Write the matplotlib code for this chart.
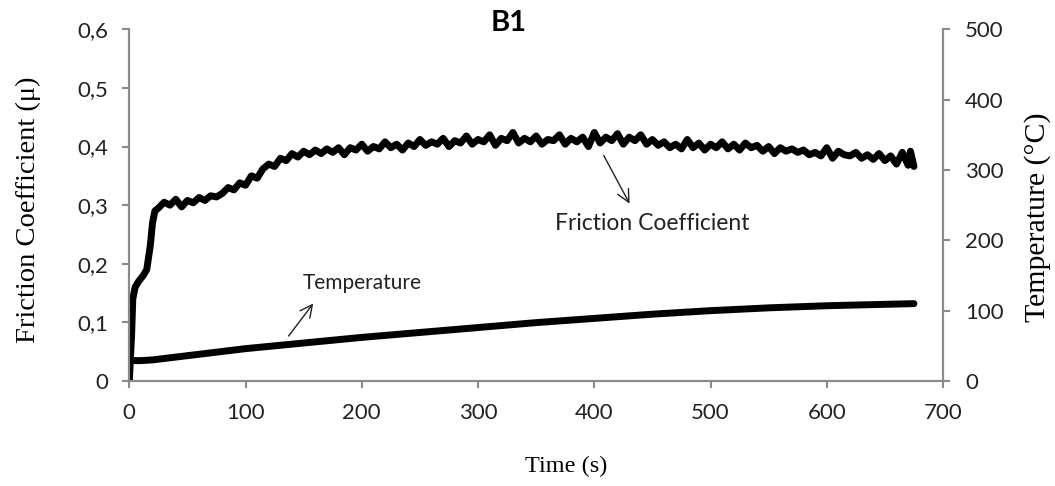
import matplotlib
matplotlib.use("Agg")
import matplotlib.pyplot as plt

# friction coefficient (time in s)
t_fric = [0, 1, 2, 3, 5, 8, 12, 15, 18, 20, 22, 25,
          30, 35, 40, 45, 50, 55, 60, 65, 70, 75, 80, 85, 90, 95, 100,
          105, 110, 115, 120, 125, 130, 135, 140, 145, 150, 155, 160, 165, 170,
          175, 180, 185, 190, 195, 200, 205, 210, 215, 220, 225, 230, 235, 240,
          245, 250, 255, 260, 265, 270, 275, 280, 285, 290, 295, 300, 305, 310,
          315, 320, 325, 330, 335, 340, 345, 350, 355, 360, 365, 370, 375, 380,
          385, 390, 395, 400, 405, 410, 415, 420, 425, 430, 435, 440, 445, 450,
          455, 460, 465, 470, 475, 480, 485, 490, 495, 500, 505, 510, 515, 520,
          525, 530, 535, 540, 545, 550, 555, 560, 565, 570, 575, 580, 585, 590,
          595, 600, 605, 610, 615, 620, 625, 630, 635, 640, 645, 650, 655, 660,
          665, 670, 672, 675]
mu = [0.0, 0.04, 0.08, 0.14, 0.16, 0.17, 0.18, 0.19, 0.23, 0.27, 0.29, 0.295,
      0.305, 0.300, 0.310, 0.297, 0.308, 0.304, 0.313, 0.308, 0.316, 0.314, 0.320,
      0.330, 0.326, 0.338, 0.334,
      0.350, 0.346, 0.362, 0.370, 0.366, 0.380, 0.376, 0.388, 0.382, 0.392, 0.386,
      0.394, 0.388, 0.396, 0.390, 0.398, 0.386, 0.398, 0.394, 0.404, 0.392, 0.400,
      0.396, 0.408, 0.398, 0.404, 0.394, 0.406, 0.400, 0.412, 0.402, 0.408, 0.404,
      0.414, 0.400, 0.410, 0.406, 0.418, 0.404, 0.412, 0.408, 0.420, 0.402, 0.414,
      0.410, 0.424, 0.406, 0.414, 0.408, 0.418, 0.404, 0.412, 0.410, 0.420, 0.404,
      0.414, 0.408, 0.416, 0.400, 0.424, 0.406, 0.416, 0.410, 0.422, 0.404, 0.416,
      0.410, 0.420, 0.404, 0.412, 0.402, 0.408, 0.398, 0.404, 0.396, 0.412, 0.398,
      0.406, 0.394, 0.404, 0.398, 0.408, 0.396, 0.404, 0.394, 0.406, 0.398, 0.402,
      0.392, 0.400, 0.388, 0.398, 0.392, 0.396, 0.390, 0.394, 0.386, 0.390, 0.384,
      0.398, 0.380, 0.392, 0.386, 0.384, 0.390, 0.380, 0.386, 0.378, 0.388, 0.376,
      0.384, 0.370, 0.390, 0.368, 0.392, 0.366]

# temperature (°C)
t_temp = [0, 1, 10, 20, 50, 100, 150, 200, 250, 300, 350, 400, 450, 500, 550, 600, 650, 675]
temp = [29, 29, 29, 30, 36, 46, 54, 62, 69, 76, 83, 89, 95, 100, 104, 107, 109, 110]

x_ticks = [0, 100, 200, 300, 400, 500, 600, 700]
mu_ticks = [0, 0.1, 0.2, 0.3, 0.4, 0.5, 0.6]
mu_labels = ["0", "0,1", "0,2", "0,3", "0,4", "0,5", "0,6"]
temp_ticks = [0, 100, 200, 300, 400, 500]

grey = "#8a8a8a"
sans = ["Lato", "DejaVu Sans"]
serif = ["Liberation Serif", "DejaVu Serif"]

fig = plt.figure(figsize=(10.55, 4.86), dpi=100)
ax = fig.add_axes([129.3 / 1055, 1 - 381 / 486, 813.7 / 1055, 351.7 / 486])
ax2 = ax.twinx()

ax.plot(t_fric, mu, color="black", lw=5, solid_joinstyle="round", solid_capstyle="round")
ax2.plot(t_temp, temp, color="black", lw=5, solid_capstyle="round")

ax.set_xlim(0, 700)
ax.set_ylim(0, 0.6)
ax2.set_ylim(0, 500)
ax.set_xticks(x_ticks)
ax.set_yticks(mu_ticks)
ax.set_yticklabels(mu_labels)
ax2.set_yticks(temp_ticks)

for a in (ax, ax2):
    a.spines["top"].set_visible(False)
    for s in ("left", "right", "bottom"):
        a.spines[s].set_color(grey)
        a.spines[s].set_linewidth(1.5)
    a.tick_params(direction="out", length=5, width=1.5, color=grey,
                  labelsize=16, labelcolor="#222222", pad=10)
    for lab in a.get_xticklabels() + a.get_yticklabels():
        lab.set_family(sans)
ax.tick_params(axis="x", pad=11)
ax2.tick_params(axis="y", pad=11)

ax.annotate("", xy=(431.5, 0.2985), xytext=(407, 0.389),
            arrowprops=dict(arrowstyle="->", color="#222222", lw=1, mutation_scale=22))
ax.text(449.5, 0.268, "Friction Coefficient", family=sans, fontsize=16.5,
        ha="center", va="center", color="#222222")
ax.annotate("", xy=(159.7, 0.136), xytext=(135.6, 0.073),
            arrowprops=dict(arrowstyle="->", color="#222222", lw=1, mutation_scale=22))
ax.text(200, 0.167, "Temperature", family=sans, fontsize=15,
        ha="center", va="center", color="#222222")

fig.text(509 / 1055, 1 - 23 / 486, "B1", family=sans, fontsize=21, fontweight="bold",
         ha="center", va="center")
fig.text(28 / 1055, 1 - 210 / 486, "Friction Coefficient (μ)", family=serif, fontsize=20.5,
         rotation=90, ha="center", va="center")
fig.text(1038 / 1055, 1 - 217 / 486, "Temperature (°C)", family=serif, fontsize=21.5,
         rotation=90, ha="center", va="center")
fig.text(566 / 1055, 1 - 466 / 486, "Time (s)", family=serif, fontsize=17.5,
         ha="center", va="center")

fig.savefig("out.png", dpi=100)
